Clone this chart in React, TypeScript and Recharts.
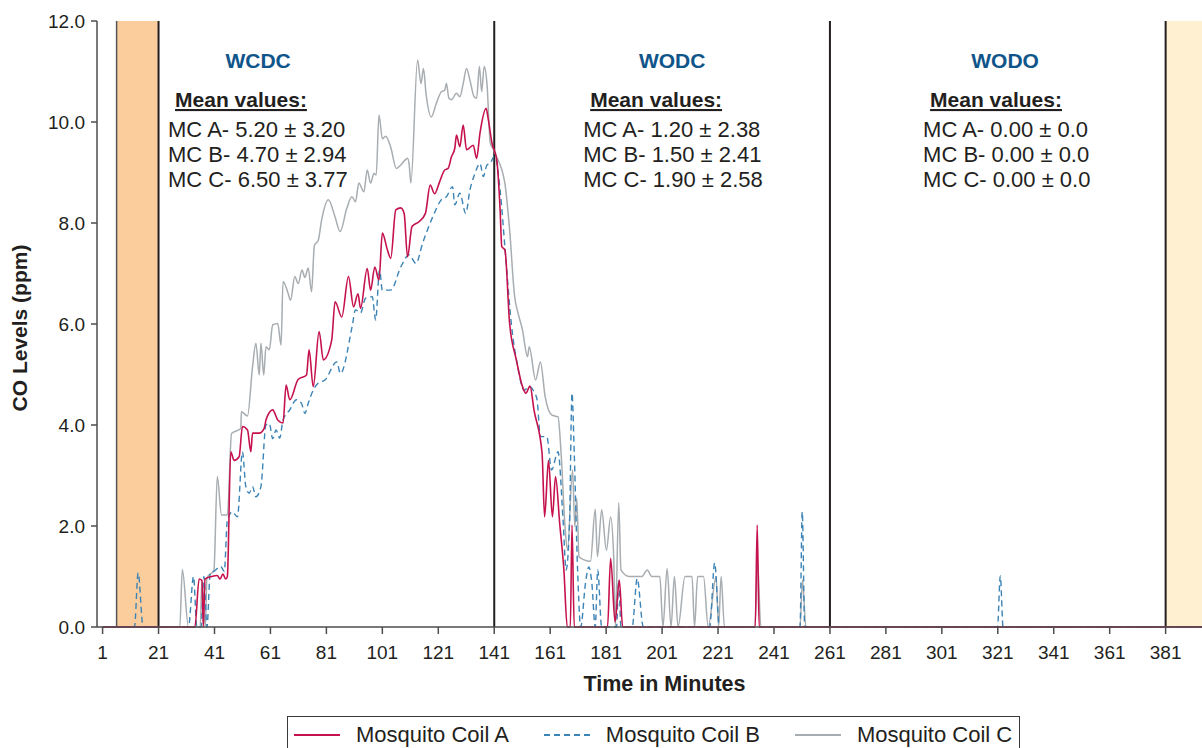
import React from 'react';
import {
  LineChart,
  Line,
  XAxis,
  YAxis,
  ReferenceArea,
  ReferenceLine,
  Legend,
} from 'recharts';

// Minutes (x) and CO level in ppm (y), one pair of lists per coil
const coilAMinutes = [
  1, 34, 35.5, 36.5, 37, 37.6, 40, 42, 43, 44, 45, 45.6, 46.8, 48, 49.8, 51, 52.8, 54, 54.6, 57,
  58.8, 59.4, 61.8, 63.6, 65.5, 66.6, 67.9, 70.9, 73.9, 74.8, 76.3, 78.4, 79.9, 82.9, 84.1, 86.5,
  88.9, 90.7, 92.3, 93.2, 95.6, 96.8, 98.3, 99.8, 101, 102.8, 104, 105.8, 107.6, 108.8, 110,
  111.6, 114.2, 116.4, 118.1, 119.7, 121.5, 123.3, 124.5, 125.7, 126.9, 127.5, 128.7, 129.9,
  131.1, 133.5, 134.7, 135.9, 138.1, 138.9, 140.2, 141.9, 143.1, 143.7, 144.8, 146.5, 148.9,
  151.1, 152.3, 153.8, 155.2, 158.1, 159, 160.4, 161.8, 162.9, 164.4, 165.9, 167.1, 168.2, 168.8,
  169.6, 181.5, 182.6, 184.2, 185.7, 186.9, 234.3, 235, 235.7, 394,
];
const coilAValues = [
  0, 0, 0.95, 0.92, 0, 0.95, 1.0, 1.02, 0.95, 1.05, 0.95, 1.0, 3.47, 3.3, 3.37, 3.97, 3.9, 3.47,
  3.84, 3.84, 3.94, 4.1, 4.3, 4.1, 4.04, 4.79, 4.5, 4.9, 4.99, 5.49, 4.76, 5.85, 5.29, 5.68, 6.44,
  6.14, 6.94, 6.34, 6.6, 6.31, 7.1, 6.67, 7.13, 6.87, 7.8, 7.47, 7.3, 8.26, 8.3, 8.19, 7.33, 7.93,
  8.03, 8.19, 8.75, 8.58, 8.82, 9.05, 9.08, 9.31, 9.48, 9.74, 9.51, 9.94, 9.45, 9.54, 9.28, 9.78,
  10.27, 10.04, 9.58, 9.25, 8.26, 7.53, 7.47, 6.01, 5.29, 4.76, 4.63, 4.77, 4.3, 3.44, 2.18, 3.3,
  2.18, 2.98, 2.05, 1.13, 0, 0, 2.02, 0, 0, 1.36, 0.1, 0.93, 0, 0, 2.02, 0, 0,
];

const coilBMinutes = [
  1, 12.4, 13.7, 15.5, 31.7, 33.5, 34.7, 36.2, 37.2, 38.3, 39.5, 40.8, 43.2, 44.5, 45.6, 47.4,
  49.2, 51, 52.2, 53.4, 54.6, 55.8, 57.6, 59.4, 60.6, 61.8, 63, 64.3, 65.5, 67.9, 70.3, 72.1,
  73.3, 74.5, 76.3, 78.1, 80.5, 84.7, 86, 90.2, 91.4, 93.2, 95, 97.4, 98.6, 100, 101, 104, 107.6,
  110.6, 113, 115.4, 119, 122.1, 123.9, 126.1, 126.9, 128.7, 130.8, 132.3, 134.1, 135.9, 137.1,
  138.4, 139.6, 140.8, 141.3, 143.1, 144.8, 147.1, 149.4, 151.7, 153.5, 155.2, 156.3, 157.5,
  159.8, 161.5, 163.8, 165.6, 166.7, 167.9, 168.8, 169.6, 170.8, 171.9, 173.6, 174.8, 175.9,
  177.1, 178, 179.4, 184.7, 185.5, 186.3, 190.3, 192.1, 194.3, 218, 219.8, 221.5, 250.3, 251.1,
  252, 320.9, 321.9, 322.9, 394,
];
const coilBValues = [
  0, 0, 1.07, 0, 0, 1.0, 0, 0, 1.0, 0, 1.07, 1.1, 1.2, 1.1, 2.12, 2.28, 2.18, 3.47, 2.78, 2.65,
  2.78, 2.58, 2.78, 4.0, 4.03, 3.73, 3.9, 3.74, 4.1, 4.3, 4.5, 4.43, 4.23, 4.43, 4.69, 4.83, 4.89,
  5.25, 5.02, 5.95, 6.28, 6.22, 6.51, 6.54, 6.08, 7.07, 6.67, 6.67, 7.13, 7.37, 7.2, 7.6, 8.12,
  8.46, 8.52, 8.72, 8.36, 8.59, 8.19, 8.65, 8.98, 9.18, 8.92, 9.15, 9.18, 9.31, 9.31, 8.65, 7.53,
  6.01, 5.15, 4.69, 4.76, 4.66, 4.5, 3.77, 3.77, 3.11, 3.47, 2.12, 1.13, 2.05, 4.63, 3.44, 1.13, 0,
  0.86, 1.19, 0.86, 0, 1.13, 0, 0, 0.93, 0, 0, 0.96, 0, 0, 1.27, 0, 0, 2.28, 0, 0, 1.01, 0, 0,
];

const coilCMinutes = [
  1, 28.6, 29.5, 31.7, 35.9, 36.5, 37.7, 38.3, 40.8, 42, 43.5, 45.6, 47.1, 50.4, 50.6, 52.8, 54.6,
  55.8, 57, 57.6, 58.6, 59.4, 60.6, 61.8, 63.6, 64.8, 65.5, 67.3, 68.2, 69.7, 70.9, 72.3, 73.3,
  74.5, 75.7, 76.7, 78.1, 79.3, 81.7, 84.1, 85.9, 88.3, 90.1, 91.4, 92.6, 94.4, 95.6, 96.8, 98,
  98.8, 99.8, 101, 102.2, 104, 106, 107.6, 109.2, 110, 110.6, 111.2, 113.6, 114.8, 115.7, 116.6,
  118.5, 120.3, 122.1, 123.3, 123.9, 124.8, 125.7, 127.5, 128.7, 129.9, 131.1, 132.3, 133.8,
  134.7, 135.7, 136.5, 137.4, 138.4, 139.6, 140.8, 141.3, 144.8, 146.5, 148.3, 149.4, 151.1,
  152.9, 153.5, 155.8, 157.5, 159.2, 161.5, 163.8, 164.9, 166.3, 167.2, 169, 169.8, 170.5, 171.3,
  173.1, 175.4, 177.1, 177.9, 179.4, 181.1, 182.6, 183.7, 184.3, 185.5, 186.3, 189.2, 193.8,
  195.7, 197.3, 200.2, 201.3, 202.8, 204.2, 205.4, 206.7, 209.2, 211.7, 212.6, 213.7, 215.8,
  217.5, 220.3, 221.2, 222.1, 223.3, 234.2, 235.1, 236.3, 250.3, 251.2, 252.4, 394,
];
const coilCValues = [
  0, 0, 1.14, 0, 0, 0.93, 0, 0.97, 1.13, 2.98, 2.22, 2.22, 3.83, 3.93, 4.26, 4.18, 5.15, 5.62,
  4.99, 5.62, 4.99, 5.55, 5.49, 5.98, 6.01, 5.58, 6.84, 6.61, 6.47, 6.94, 6.8, 7.07, 6.92, 7.11,
  6.64, 7.55, 7.66, 8.06, 8.46, 8.12, 7.83, 8.29, 8.52, 8.42, 8.79, 8.62, 9.05, 8.79, 8.98, 8.95,
  10.14, 9.67, 9.72, 9.5, 9.08, 9.15, 9.25, 9.28, 9.15, 8.79, 11.23, 10.76, 11.06, 10.57, 10.1,
  10.37, 10.6, 10.63, 10.76, 10.47, 10.44, 10.57, 10.5, 10.76, 11.06, 10.83, 10.5, 10.47, 11.1,
  10.6, 11.1, 10.76, 9.58, 9.45, 9.38, 8.79, 7.86, 6.54, 6.24, 5.88, 5.35, 5.55, 4.89, 5.25, 4.56,
  4.2, 4.16, 3.44, 1.99, 1.52, 3.11, 1.99, 2.55, 1.39, 1.33, 1.3, 2.33, 1.39, 2.32, 1.52, 2.18,
  1.39, 0, 2.46, 1.13, 1.0, 1.0, 1.13, 1.0, 1.0, 0, 1.16, 0, 1.0, 0, 1.0, 1.0, 0, 1.0, 1.0, 0,
  1.0, 0, 1.0, 0, 0, 1.33, 0, 0, 0.93, 0, 0,
];

const xTicks = [1, 21, 41, 61, 81, 101, 121, 141, 161, 181, 201, 221, 241, 261, 281, 301, 321, 341, 361, 381];
const yTicks = [0, 2, 4, 6, 8, 10, 12];

// Phases of the experiment
const sectionNames = ['WCDC', 'WODC', 'WODO'];
const sectionStarts = [24.4, 172.8, 294.3]; // minute where the mean-value block starts
const sectionTitleShift = [90, 89, 82];
const sectionMeans = [
  ['MC A- 5.20 \u00b1 3.20', 'MC B- 4.70 \u00b1 2.94', 'MC C- 6.50 \u00b1 3.77'],
  ['MC A- 1.20 \u00b1 2.38', 'MC B- 1.50 \u00b1 2.41', 'MC C- 1.90 \u00b1 2.58'],
  ['MC A- 0.00 \u00b1 0.0', 'MC B- 0.00 \u00b1 0.0', 'MC C- 0.00 \u00b1 0.0'],
];
const phaseBounds = [21, 141, 261, 381];

const FONT = '"Liberation Sans", Arial, Helvetica, sans-serif';
const INK = '#231F20';
const RED = '#C5124C';
const BLUE = '#3C84B6';
const GRAY = '#A8ADB1';

const toPoints = (minutes: number[], values: number[]) =>
  minutes.map((t, i) => ({ t, v: values[i] }));

const coilA = toPoints(coilAMinutes, coilAValues);
const coilB = toPoints(coilBMinutes, coilBValues);
const coilC = toPoints(coilCMinutes, coilCValues);

const SectionNote = ({ viewBox, idx }: any) => {
  const x = viewBox.x;
  return (
    <g fontFamily={FONT}>
      <text x={x + sectionTitleShift[idx]} y={68} textAnchor="middle" fontSize={21} fontWeight={700} fill="#10558A">
        {sectionNames[idx]}
      </text>
      <text x={x + 7} y={107} fontSize={21} fontWeight={700} fill={INK} textDecoration="underline">
        Mean values:
      </text>
      {sectionMeans[idx].map((line, i) => (
        <text key={line} x={x} y={137 + i * 25} fontSize={22} fill={INK}>
          {line}
        </text>
      ))}
    </g>
  );
};

const legendItems = [
  { name: 'Mosquito Coil A', color: RED, dash: undefined },
  { name: 'Mosquito Coil B', color: BLUE, dash: '6 4' },
  { name: 'Mosquito Coil C', color: GRAY, dash: undefined },
];

const renderLegend = () => (
  <div
    style={{
      boxSizing: 'border-box',
      width: 733,
      height: 32,
      borderTop: '1.5px solid #3a3a3a',
      borderLeft: '1.5px solid #3a3a3a',
      borderRight: '1.5px solid #3a3a3a',
      display: 'flex',
      alignItems: 'center',
      paddingLeft: 6,
      paddingTop: 4,
      fontFamily: FONT,
      fontSize: 22,
      color: INK,
      whiteSpace: 'nowrap',
    }}
  >
    {legendItems.map((item) => (
      <span key={item.name} style={{ display: 'inline-flex', alignItems: 'center', marginRight: 35 }}>
        <svg width={46} height={4}>
          <line x1={0} y1={2} x2={46} y2={2} stroke={item.color} strokeWidth={2} strokeDasharray={item.dash} />
        </svg>
        <span style={{ marginLeft: 16 }}>{item.name}</span>
      </span>
    ))}
  </div>
);

const App = () => {
  return (
    <div style={{ position: 'absolute', left: 0, top: 0, width: 1202, height: 748, overflow: 'hidden', background: '#fff' }}>
      <LineChart width={1202} height={748} margin={{ top: 21, right: 0, bottom: 0, left: 0 }}>
        <XAxis
          dataKey="t"
          type="number"
          domain={[-1, 394]}
          ticks={xTicks}
          interval={0}
          allowDataOverflow
          height={89}
          tickSize={7}
          tickMargin={12}
          stroke="#4D4D4D"
          strokeWidth={1.5}
          tick={{ fontSize: 19, fill: INK, fontFamily: FONT }}
          label={(props: any) => {
            const vb = props.viewBox;
            return (
              <text x={vb.x + vb.width / 2 + 15} y={vb.y + 64} textAnchor="middle" fontSize={21.5} fontWeight={700} fill={INK} fontFamily={FONT}>
                Time in Minutes
              </text>
            );
          }}
        />
        <YAxis
          type="number"
          domain={[0, 12]}
          ticks={yTicks}
          interval={0}
          width={97}
          tickSize={6}
          tickMargin={6}
          stroke="#4D4D4D"
          strokeWidth={1.5}
          tickFormatter={(v: number) => v.toFixed(1)}
          tick={{ fontSize: 19, fill: INK, fontFamily: FONT }}
          label={(props: any) => {
            const vb = props.viewBox;
            const cy = vb.y + vb.height / 2 + 4;
            return (
              <text x={27} y={cy} transform={`rotate(-90, 27, ${cy})`} textAnchor="middle" fontSize={21} fontWeight={700} fill={INK} fontFamily={FONT}>
                CO Levels (ppm)
              </text>
            );
          }}
        />

        <ReferenceArea x1={6} x2={21} y1={0} y2={12} fill="#FBCD9C" fillOpacity={1} stroke="none" />
        <ReferenceArea x1={381} x2={394} y1={0} y2={12} fill="#FFF0D2" fillOpacity={1} stroke="none" />
        <ReferenceLine x={6} stroke="#555" strokeWidth={1.5} />
        {phaseBounds.map((b) => (
          <ReferenceLine key={b} x={b} stroke={INK} strokeWidth={2} />
        ))}
        {sectionStarts.map((s, i) => (
          <ReferenceLine
            key={`note-${i}`}
            x={s}
            stroke="none"
            label={(props: any) => <SectionNote viewBox={props.viewBox} idx={i} />}
          />
        ))}

        <Line data={coilC} dataKey="v" name="Mosquito Coil C" type="monotone" stroke={GRAY} strokeWidth={1.5} dot={false} isAnimationActive={false} />
        <Line data={coilB} dataKey="v" name="Mosquito Coil B" type="monotone" stroke={BLUE} strokeWidth={1.4} strokeDasharray="6 4" dot={false} isAnimationActive={false} />
        <Line data={coilA} dataKey="v" name="Mosquito Coil A" type="monotone" stroke={RED} strokeWidth={1.6} dot={false} isAnimationActive={false} />

        <Legend
          verticalAlign="bottom"
          width={733}
          height={32}
          wrapperStyle={{ left: 287, bottom: 0, width: 733, height: 32 }}
          content={renderLegend}
        />
      </LineChart>
    </div>
  );
};

export default App;
